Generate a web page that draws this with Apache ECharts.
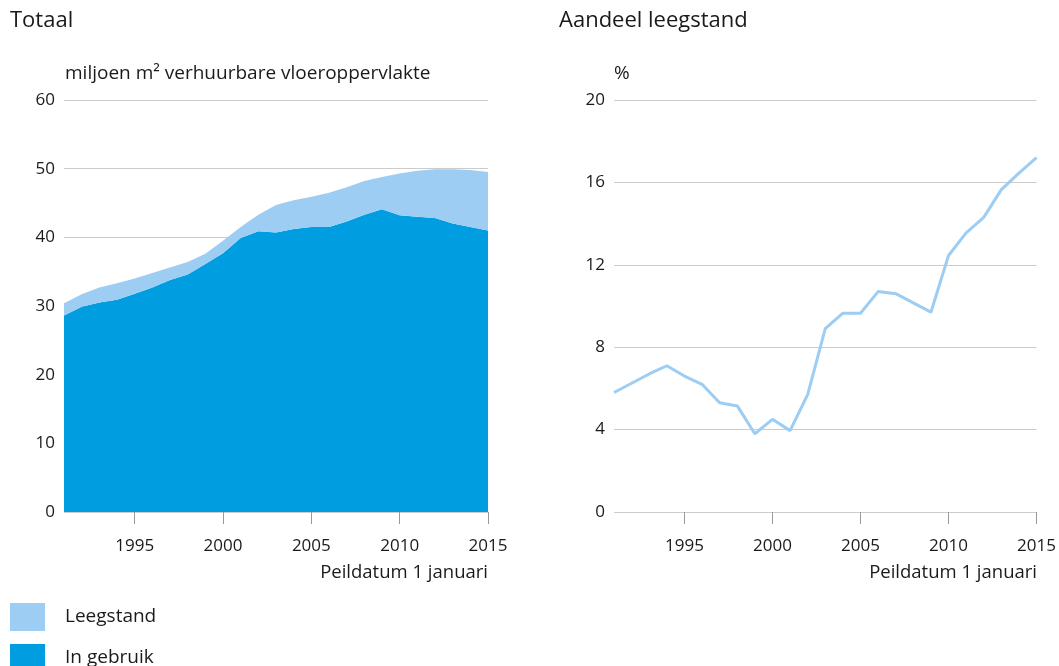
<!DOCTYPE html>
<html>
<head>
<meta charset="utf-8" />
<title>Winkelvoorraad</title>
<script src="https://cdn.jsdelivr.net/npm/echarts@6/dist/echarts.min.js"></script>
<style>
  html, body { margin: 0; padding: 0; background: #fff; }
  #main { width: 1059px; height: 666px; }
</style>
</head>
<body>
<div id="main"></div>
<script type="text/javascript">
// peildatum 1 januari
var years = ['1991','1992','1993','1994','1995','1996','1997','1998','1999','2000',
             '2001','2002','2003','2004','2005','2006','2007','2008','2009','2010',
             '2011','2012','2013','2014','2015'];

// miljoen m2 verhuurbare vloeroppervlakte
var inGebruik = [28.6, 29.9, 30.5, 30.9, 31.8, 32.7, 33.8, 34.6, 36.1, 37.7,
                 39.9, 40.9, 40.7, 41.2, 41.5, 41.5, 42.3, 43.3, 44.1, 43.2,
                 43.0, 42.8, 42.0, 41.5, 41.0];
var leegstand = [1.8, 1.8, 2.2, 2.4, 2.2, 2.1, 1.8, 1.8, 1.5, 1.8,
                 1.6, 2.4, 4.0, 4.2, 4.4, 5.0, 5.0, 4.9, 4.7, 6.1,
                 6.7, 7.1, 7.9, 8.3, 8.5];

// aandeel leegstand, %
var aandeel = [5.8, 6.25, 6.7, 7.1, 6.6, 6.2, 5.3, 5.15, 3.8, 4.5,
               3.95, 5.7, 8.9, 9.65, 9.65, 10.7, 10.6, 10.15, 9.7, 12.45,
               13.55, 14.3, 15.65, 16.45, 17.2];

var FONT = 'Open Sans';
var TXT = '#1a1a1a';
var GRID = '#cccccc';
var DARK = '#009ee0';
var LIGHT = '#9dcdf2';

var myChart = echarts.init(document.getElementById('main'));

function showEvery5(idx, val) {
    return parseInt(val, 10) % 5 === 0;
}

function xAxisFor(gridIndex) {
    return {
        type: 'category',
        gridIndex: gridIndex,
        data: years,
        boundaryGap: false,
        axisLine: { show: false },
        axisTick: {
            show: true,
            interval: showEvery5,
            length: 12,
            lineStyle: { color: '#999999', width: 1 }
        },
        axisLabel: {
            interval: showEvery5,
            color: TXT,
            fontFamily: FONT,
            fontSize: 17,
            margin: 26
        },
        splitLine: { show: false }
    };
}

function yAxisFor(gridIndex, max, step) {
    return {
        type: 'value',
        gridIndex: gridIndex,
        min: 0,
        max: max,
        interval: step,
        axisLine: { show: false },
        axisTick: { show: false },
        axisLabel: {
            color: TXT,
            fontFamily: FONT,
            fontSize: 17,
            margin: 9
        },
        splitLine: { lineStyle: { color: GRID, width: 1 } }
    };
}

function txt(size) {
    return { color: TXT, fontFamily: FONT, fontSize: size, fontWeight: 'normal' };
}

function legendFor(name, top) {
    return {
        orient: 'vertical',
        left: 10,
        top: top,
        padding: 0,
        icon: 'rect',
        itemWidth: 35,
        itemHeight: 28,
        data: [name],
        textStyle: { color: TXT, fontFamily: FONT, fontSize: 19, padding: [0, 0, 0, 15] }
    };
}

option = {
    backgroundColor: '#ffffff',
    animation: false,
    title: [
        { text: 'Totaal', left: 10, top: 10, padding: 0, textStyle: txt(22) },
        { text: 'Aandeel leegstand', left: 559, top: 10, padding: 0, textStyle: txt(22) },
        { text: 'miljoen m² verhuurbare vloeroppervlakte', left: 65, top: 64, padding: 0, textStyle: txt(19) },
        { text: '%', left: 614, top: 64, padding: 0, textStyle: txt(19) },
        { text: 'Peildatum 1 januari', right: 571, top: 563, padding: 0, textStyle: txt(18.5) },
        { text: 'Peildatum 1 januari', right: 22, top: 563, padding: 0, textStyle: txt(18.5) }
    ],
    legend: [
        legendFor('Leegstand', 603),
        legendFor('In gebruik', 644)
    ],
    grid: [
        { left: 64, right: 571, top: 100, bottom: 154 },
        { left: 614, right: 22, top: 100, bottom: 154 }
    ],
    xAxis: [xAxisFor(0), xAxisFor(1)],
    yAxis: [yAxisFor(0, 60, 10), yAxisFor(1, 20, 4)],
    series: [
        {
            name: 'In gebruik',
            type: 'line',
            xAxisIndex: 0,
            yAxisIndex: 0,
            stack: 'totaal',
            data: inGebruik,
            showSymbol: false,
            lineStyle: { width: 0 },
            itemStyle: { color: DARK },
            areaStyle: { color: DARK, opacity: 1 }
        },
        {
            name: 'Leegstand',
            type: 'line',
            xAxisIndex: 0,
            yAxisIndex: 0,
            stack: 'totaal',
            data: leegstand,
            showSymbol: false,
            lineStyle: { width: 0 },
            itemStyle: { color: LIGHT },
            areaStyle: { color: LIGHT, opacity: 1 }
        },
        {
            name: 'Aandeel leegstand',
            type: 'line',
            xAxisIndex: 1,
            yAxisIndex: 1,
            data: aandeel,
            showSymbol: false,
            lineStyle: { color: LIGHT, width: 3 },
            itemStyle: { color: LIGHT }
        }
    ]
};
myChart.setOption(option);
</script>
</body>
</html>
